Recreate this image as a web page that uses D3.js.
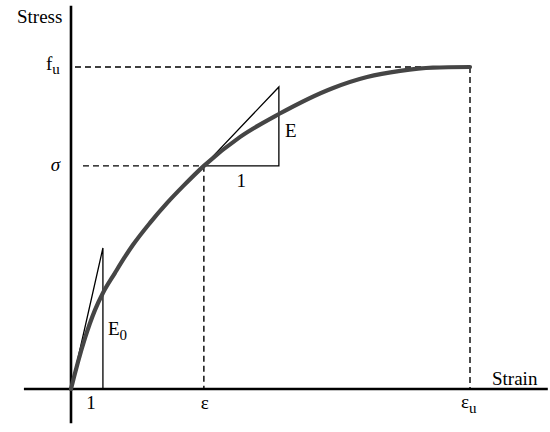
<!DOCTYPE html>
<html>
<head>
<meta charset="utf-8">
<script src="https://cdn.jsdelivr.net/npm/d3@7"></script>
<style>
  body { margin: 0; background: #fff; }
</style>
</head>
<body>
<svg id="chart"></svg>
<script>
// curve (normalised: eps_u = 1, f_u = 1)
const strain = [0, 0.0075, 0.0175, 0.035, 0.060, 0.080, 0.110, 0.135, 0.155, 0.198, 0.241, 0.281, 0.333, 0.424, 0.521, 0.657, 0.742, 0.825, 0.907, 1];
const stress = [0, 0.037, 0.084, 0.158, 0.245, 0.298, 0.360, 0.410, 0.447, 0.516, 0.578, 0.630, 0.693, 0.783, 0.854, 0.935, 0.969, 0.988, 0.998, 1];

// reference points
const eps = 0.333, sigma = 0.693, epsU = 1, fu = 1;
// tangent triangles [x0, y0, x1, y1]
const tangentE = [0.333, 0.693, 0.521, 0.938];
const tangentE0 = [0, 0, 0.080, 0.438];

const width = 550, height = 432;
const font = "'Liberation Serif', 'Times New Roman', Times, serif";

const svg = d3.select("#chart").attr("width", width).attr("height", height);

const x = d3.scaleLinear().domain([0, 1]).range([71, 470]);
const y = d3.scaleLinear().domain([0, 1]).range([389, 67]);

// axes
svg.append("line")
  .attr("x1", x(-0.118)).attr("x2", x(1.195))
  .attr("y1", y(0)).attr("y2", y(0))
  .attr("stroke", "#000").attr("stroke-width", 2.6);
svg.append("line")
  .attr("x1", x(0)).attr("x2", x(0))
  .attr("y1", y(1.19)).attr("y2", y(-0.106))
  .attr("stroke", "#000").attr("stroke-width", 2.6);

// dashed guides
const guides = [
  [0.01, fu, epsU, fu],
  [0.03, sigma, eps, sigma],
  [eps, sigma, eps, 0],
  [epsU, fu, epsU, 0]
];
svg.selectAll(".guide")
  .data(guides)
  .enter()
  .append("line")
  .attr("class", "guide")
  .attr("x1", d => x(d[0])).attr("y1", d => y(d[1]))
  .attr("x2", d => x(d[2])).attr("y2", d => y(d[3]))
  .attr("stroke", "#000")
  .attr("stroke-width", 1.4)
  .attr("stroke-dasharray", "6,4");

// tangent triangles
const tri = (t, closeBase) => {
  const pts = [[t[0], t[1]], [t[2], t[3]], [t[2], t[1]]];
  if (closeBase) pts.push([t[0], t[1]]);
  return d3.line().x(d => x(d[0])).y(d => y(d[1]))(pts);
};
svg.append("path")
  .attr("d", tri(tangentE, true))
  .attr("fill", "none").attr("stroke", "#000").attr("stroke-width", 1.3);
svg.append("path")
  .attr("d", tri(tangentE0, false))
  .attr("fill", "none").attr("stroke", "#000").attr("stroke-width", 1.3);

// stress-strain curve
const pts = strain.map((s, i) => [s, stress[i]]);
svg.append("path")
  .attr("d", d3.line().x(d => x(d[0])).y(d => y(d[1])).curve(d3.curveMonotoneX)(pts))
  .attr("fill", "none")
  .attr("stroke", "#454545")
  .attr("stroke-width", 4.2)
  .attr("stroke-linecap", "round");

// labels
const fs = 19;
const label = (px, py) => svg.append("text")
  .attr("x", px).attr("y", py)
  .attr("font-family", font)
  .attr("font-size", fs)
  .attr("fill", "#000");

label(17, 23).text("Stress");
label(492, 385).text("Strain");

const fuLbl = label(46, y(fu) + 3);
fuLbl.append("tspan").text("f");
fuLbl.append("tspan").attr("dy", 4).attr("font-size", 15).text("u");

label(60, y(sigma) + 5).attr("text-anchor", "end").attr("font-style", "italic").text("σ");

label(x(eps) + 1, 409).attr("text-anchor", "middle").text("ε");

const euLbl = label(x(epsU) - 9, 408);
euLbl.append("tspan").text("ε");
euLbl.append("tspan").attr("dy", 5).attr("font-size", 15).text("u");

label(91, 409).attr("text-anchor", "middle").text("1");
label(x((tangentE[0] + tangentE[2]) / 2), 187).attr("text-anchor", "middle").text("1");

label(x(tangentE[2]) + 6, 137).text("E");

const e0 = label(x(tangentE0[2]) + 5, 335);
e0.append("tspan").text("E");
e0.append("tspan").attr("dy", 5).attr("font-size", 15).text("0");
</script>
</body>
</html>
